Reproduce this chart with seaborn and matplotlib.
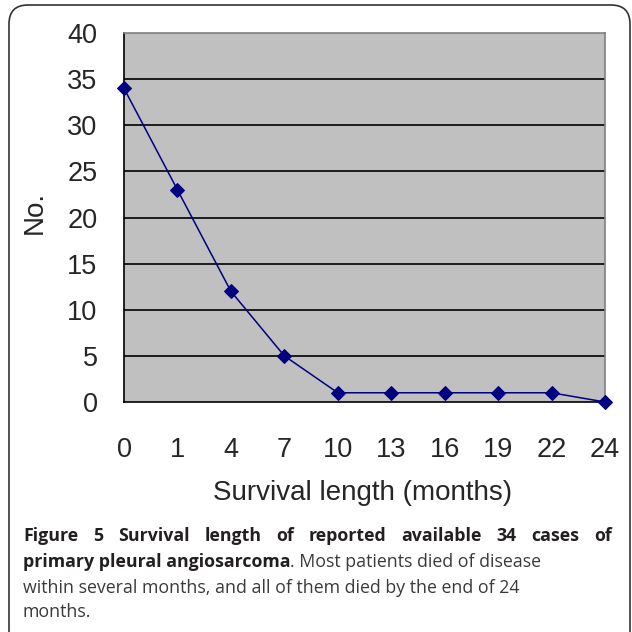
import matplotlib
matplotlib.use("Agg")
import matplotlib.pyplot as plt
import seaborn as sns
import pandas as pd
from matplotlib.patches import FancyBboxPatch

months = ["0", "1", "4", "7", "10", "13", "16", "19", "22", "24"]
counts = [34, 23, 12, 5, 1, 1, 1, 1, 1, 0]
y_ticks = [0, 5, 10, 15, 20, 25, 30, 35, 40]

caption_bold_1 = "Figure 5 Survival length of reported available 34 cases of"
caption_bold_2 = "primary pleural angiosarcoma"
caption_rest_2 = ". Most patients died of disease"
caption_line_3 = "within several months, and all of them died by the end of 24"
caption_line_4 = "months."

sns.set_style("white")
plt.rcParams["font.family"] = ["Liberation Sans", "DejaVu Sans"]

df = pd.DataFrame({"month": months, "count": counts})

fig = plt.figure(figsize=(6.32, 6.32), dpi=100)
ax = fig.add_axes([124 / 632, 1 - 402 / 632, (605 - 124) / 632, (402 - 33) / 632])
ax.set_facecolor("#c0c0c0")

sns.lineplot(data=df, x="month", y="count", sort=False, ax=ax, color="#000080",
             marker="D", markersize=7, markeredgecolor="#000080", linewidth=1.1,
             clip_on=False, zorder=5)

ax.set_xlim(0, len(months) - 1)
ax.set_ylim(0, 40)
ax.set_yticks(y_ticks)
ax.set_xticks(range(len(months)))
ax.set_xticklabels(months)
for y in y_ticks[1:-1]:
    ax.axhline(y, color="black", linewidth=1.2, zorder=1)

ax.tick_params(axis="both", direction="in", length=8, width=1.2, color="black",
               labelsize=19.5)
ax.tick_params(axis="x", pad=25)
ax.tick_params(axis="y", pad=19)
for side in ["left", "bottom"]:
    ax.spines[side].set_color("black")
    ax.spines[side].set_linewidth(1.2)
for side in ["top", "right"]:
    ax.spines[side].set_color("#808080")
    ax.spines[side].set_linewidth(1.2)

ax.set_xlabel("Survival length (months)", fontsize=20, va="center")
ax.xaxis.set_label_coords(0.497, (402 - 493) / 369)
ax.set_ylabel("No.", fontsize=20, va="center")
ax.yaxis.set_label_coords((35 - 124) / 481, (402 - 213) / 369)

# outer rounded frame, bottom edge runs off the figure
frame = FancyBboxPatch((9 / 632, -18 / 632), 621 / 632, 645 / 632,
                       boxstyle="round,pad=0,rounding_size=0.03",
                       transform=fig.transFigure, fill=False,
                       edgecolor="#333333", linewidth=1.2, clip_on=False)
fig.patches.append(frame)

# caption (first line justified)
cap_kw = dict(fontfamily="Open Sans", fontsize=12.8, color="#231f20", va="baseline")
reg_kw = dict(cap_kw, color="#3a3a3a")
renderer = fig.canvas.get_renderer()
left, right = 23, 612
words = caption_bold_1.split()
texts = [fig.text(0, 0, w, fontweight="bold", **cap_kw) for w in words]
widths = [t.get_window_extent(renderer).width for t in texts]
gap = (right - left - sum(widths)) / (len(words) - 1)
xpos = left
for t, w in zip(texts, widths):
    t.set_position((xpos / 632, 1 - 541 / 632))
    xpos += w + gap

b2 = fig.text(left / 632, 1 - 567 / 632, caption_bold_2, fontweight="bold", **cap_kw)
bw = b2.get_window_extent(renderer).width
fig.text((left + bw) / 632, 1 - 567 / 632, caption_rest_2, **reg_kw)
fig.text(left / 632, 1 - 593 / 632, caption_line_3, **reg_kw)
fig.text(left / 632, 1 - 617 / 632, caption_line_4, **reg_kw)

fig.savefig("out.png", dpi=100)
